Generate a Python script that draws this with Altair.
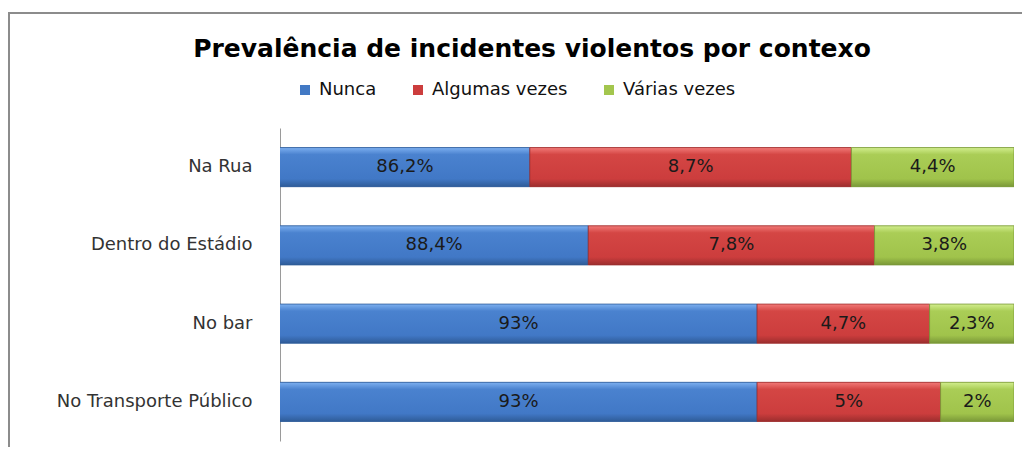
import altair as alt
import pandas as pd

contexts = ["Na Rua", "Dentro do Estádio", "No bar", "No Transporte Público"]
categories = ["Nunca", "Algumas vezes", "Várias vezes"]
nunca = [86.2, 88.4, 93, 93]
algumas = [8.7, 7.8, 4.7, 5]
varias = [4.4, 3.8, 2.3, 2]

colors = ["#4279C4", "#CC3D3D", "#A3C64E"]
gradients = [
    ["#7DB0F0", "#4A82CF", "#4178C6", "#2F5C98"],
    ["#F27A78", "#D44644", "#CC3D3D", "#9C2E2E"],
    ["#D2EE8E", "#AACD56", "#A0C34B", "#7A9838"],
]

rows = []
for series_i, (cat, vals) in enumerate(zip(categories, [nunca, algumas, varias])):
    for ctx, v in zip(contexts, vals):
        rows.append({
            "ctx": ctx,
            "cat": cat,
            "order": series_i,
            "value": v,
            "label": f"{v:g}".replace(".", ",") + "%",
        })
df = pd.DataFrame(rows)

base = (
    alt.Chart(df)
    .transform_joinaggregate(total="sum(value)", groupby=["ctx"])
    .transform_calculate(frac="datum.value / datum.total")
    .transform_window(cum="sum(frac)", sort=[alt.SortField("order")], groupby=["ctx"])
    .transform_calculate(start="datum.cum - datum.frac")
    .transform_calculate(mid="(max(datum.start, 0.8) + datum.cum) / 2")
)

yenc = alt.Y(
    "ctx:N",
    sort=contexts,
    title=None,
    scale=alt.Scale(paddingInner=0.5, paddingOuter=0.25),
    axis=alt.Axis(
        domainColor="#9a9a9a",
        domainWidth=1,
        ticks=False,
        labelPadding=28,
        labelFont="DejaVu Sans",
        labelFontSize=18,
        labelColor="#333333",
        labelLimit=300,
    ),
)
xscale = alt.Scale(domain=[0.8, 1.0], nice=False, zero=False)

bars = base.mark_bar(clip=True).encode(
    x=alt.X("start:Q", scale=xscale, axis=None),
    x2="cum:Q",
    y=yenc,
    color=alt.Color(
        "cat:N",
        scale=alt.Scale(domain=categories, range=colors),
        legend=alt.Legend(
            title=None,
            orient="none",
            direction="horizontal",
            legendX=16,
            legendY=-47,
            symbolType="square",
            symbolSize=100,
            symbolStrokeWidth=0,
            labelFont="DejaVu Sans",
            labelFontSize=18,
            labelColor="#111111",
            columnPadding=32,
            labelOffset=5,
        ),
    ),
)

grad_layers = []
for cat, g in zip(categories, gradients):
    fill = {
        "gradient": "linear",
        "x1": 0, "y1": 0, "x2": 0, "y2": 1,
        "stops": [
            {"offset": 0, "color": g[0]},
            {"offset": 0.18, "color": g[1]},
            {"offset": 0.8, "color": g[2]},
            {"offset": 1, "color": g[3]},
        ],
    }
    grad_layers.append(
        base.transform_filter(alt.datum.cat == cat)
        .mark_bar(clip=True, fill=fill, stroke=g[3], strokeWidth=0.8)
        .encode(x=alt.X("start:Q", scale=xscale, axis=None), x2="cum:Q", y=yenc)
    )

labels = base.mark_text(font="DejaVu Sans", fontSize=18, color="#1a1a1a").encode(
    x=alt.X("mid:Q", scale=xscale, axis=None),
    y=yenc,
    text="label:N",
)

frame = alt.Chart(pd.DataFrame({"a": [0]})).mark_rect(
    fill=None, stroke="#8c8c8c", strokeWidth=2
).encode(
    x=alt.value(-271), x2=alt.value(800), y=alt.value(-115), y2=alt.value(400)
)

chart = (
    alt.layer(frame, bars, *grad_layers, labels)
    .properties(
        width=734,
        height=313,
        autosize=alt.AutoSizeParams(type="none"),
        padding={"left": 272, "top": 120, "right": 8, "bottom": 6},
        title=alt.TitleParams(
            "Prevalência de incidentes violentos por contexo",
            font="DejaVu Sans",
            fontSize=25,
            fontWeight="bold",
            color="#000000",
            anchor="middle",
            frame="group",
            dx=-115,
            offset=22,
            dy=72,
        ),
    )
    .configure_view(stroke=None)
)

chart.save("out.html", embed_options={"renderer": "svg", "actions": False})
